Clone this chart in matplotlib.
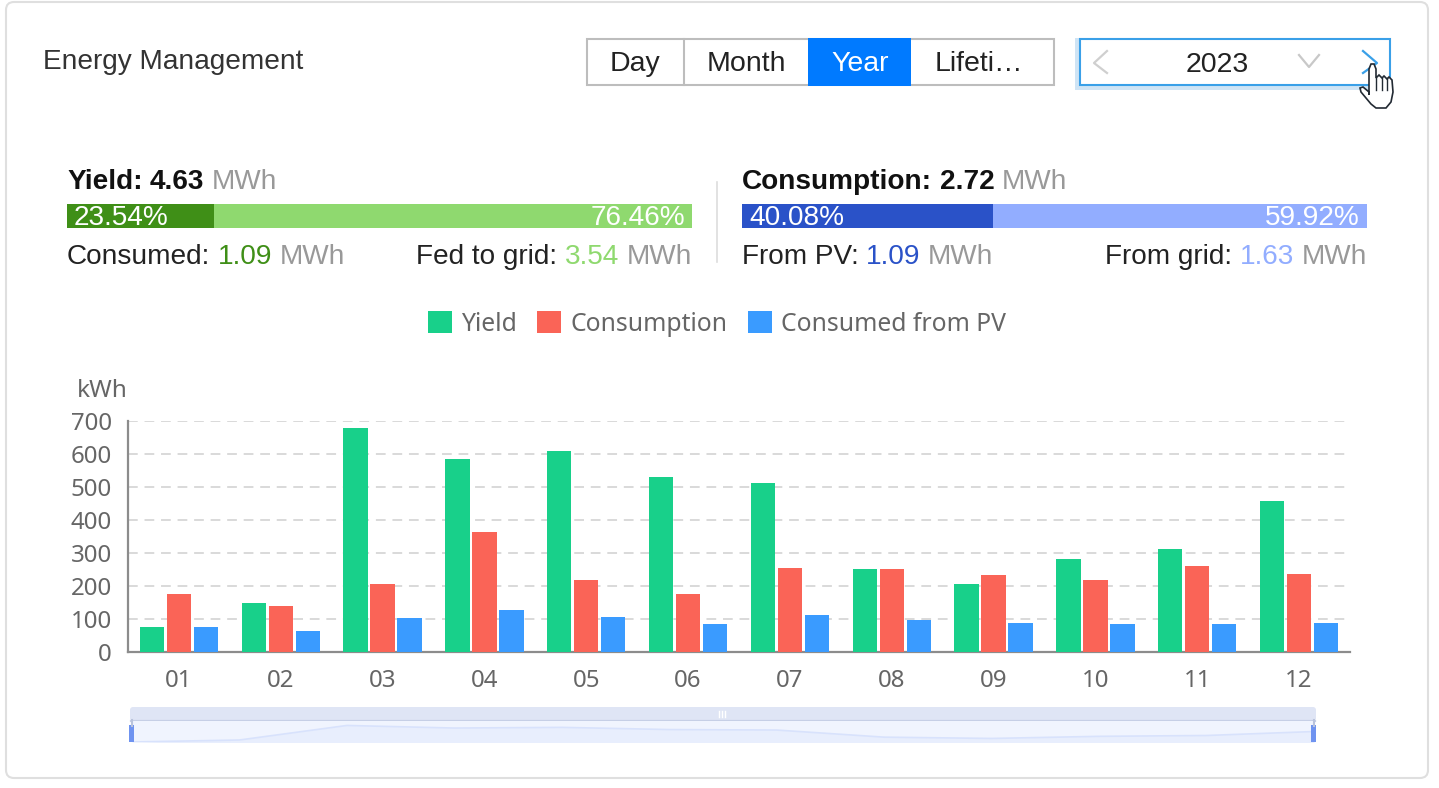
import matplotlib
matplotlib.use('Agg')
from matplotlib import pyplot as plt
from matplotlib.patches import FancyBboxPatch, Rectangle, Polygon
import numpy as np

W, H = 1439, 788
UI_FONT = 'Liberation Sans'
CHART_FONT = 'Noto Sans'

# Chart data
months = ['01', '02', '03', '04', '05', '06', '07', '08', '09', '10', '11', '12']
yield_kwh = [75, 148, 680, 585, 610, 530, 512, 252, 205, 282, 313, 458]
consumption_kwh = [175, 138, 207, 364, 218, 176, 256, 252, 233, 217, 260, 235]
from_pv_kwh = [75, 65, 102, 128, 107, 85, 112, 96, 88, 85, 86, 87]
series_names = ['Yield', 'Consumption', 'Consumed from PV']
series_colors = ['#18d08a', '#fa6457', '#3a9bff']
y_ticks = [0, 100, 200, 300, 400, 500, 600, 700]

# Summary bars
yield_split = [23.54, 76.46]
consumption_split = [40.08, 59.92]
tabs = ['Day', 'Month', 'Year', 'Lifeti…']


def px_axes(x0, y0, x1, y1, **kw):
    return fig.add_axes([x0/W, 1-y1/H, (x1-x0)/W, (y1-y0)/H], **kw)


def pieces(x, y, parts, size, align='left'):
    # parts = (text, color, bold), drawn one after the other
    order = parts if align == 'left' else parts[::-1]
    for s, c, b in order:
        t = ui.text(x, y, s, color=c, fontsize=size, family=UI_FONT, va='center',
                    ha=align, fontweight='bold' if b else 'normal')
        w = t.get_window_extent(renderer).width + 7.5
        x = x + w if align == 'left' else x - w


fig = plt.figure(figsize=(W/100, H/100), dpi=100)
renderer = fig.canvas.get_renderer()

# Overlay in pixel coordinates for the page furniture
ui = fig.add_axes([0, 0, 1, 1], zorder=0)
ui.set_xlim(0, W)
ui.set_ylim(H, 0)
ui.axis('off')

ui.add_patch(FancyBboxPatch((6, 2), 1422, 776, boxstyle='round,pad=0,rounding_size=8',
                            fc='white', ec='#dfdfdf', lw=1.5))
ui.text(43, 62, 'Energy Management', fontsize=20.2, family=UI_FONT, color='#333333', va='center')

# Tabs
tab_edges = [587, 684, 808, 911, 1054]
tab_centers = [635, 746, 860, 979]
ui.add_patch(Rectangle((587, 39), 467, 46, fc='white', ec='#bdbdbd', lw=1.5))
for i, label in enumerate(tabs):
    x0, x1 = tab_edges[i], tab_edges[i+1]
    active = label == 'Year'
    if active:
        ui.add_patch(Rectangle((x0, 38), x1-x0, 48, fc='#007aff', ec='none', zorder=3))
    elif i == 1:
        ui.plot([x0, x0], [39, 85], color='#bdbdbd', lw=1.5)
    ui.text(tab_centers[i], 64, label, ha='center', va='center', fontsize=20.5, family=UI_FONT,
            color='white' if active else '#222222', zorder=4)

# Year picker
ui.add_patch(Rectangle((1075, 38), 315, 52, fc='#cfe4f5', ec='none'))
ui.add_patch(Rectangle((1080, 39), 310, 46, fc='white', ec='#3aa0e8', lw=1.5))
ui.text(1217, 65, '2023', ha='center', va='center', fontsize=20.5, family=UI_FONT, color='#222222')
ui.plot([1107, 1094, 1107], [51, 63, 73], color='#cfcfcf', lw=1.6)
ui.plot([1299, 1309, 1319], [55, 67, 55], color='#c8c8c8', lw=1.6)
ui.plot([1363, 1377, 1363], [51, 63, 73], color='#3aa0e8', lw=1.6)
hand = [(1369, 95), (1369, 69), (1371, 64), (1374, 64), (1376, 69), (1376, 78), (1379, 75),
        (1382, 78), (1384, 76), (1387, 79), (1389, 77), (1392, 80), (1393, 92), (1391, 102),
        (1386, 108), (1376, 108), (1371, 104), (1361, 92), (1360, 88), (1363, 87), (1369, 92)]
ui.add_patch(Polygon(hand, closed=True, fc='white', ec='#222a33', lw=1.2, zorder=6))
for fx in (1376, 1382, 1387):
    ui.plot([fx, fx], [78, 90], color='#222a33', lw=1.0, zorder=7)

# Summary blocks
for x0, split, dark, light in [(67, yield_split, '#3f8f17', '#8fd96f'),
                               (742, consumption_split, '#2a52c8', '#92adff')]:
    ui.barh(216, 625*split[0]/100, left=x0, height=24, color=dark)
    ui.barh(216, 625*split[1]/100, left=x0+625*split[0]/100, height=24, color=light)
    ui.text(x0+7, 217.5, f'{split[0]}%', color='white', fontsize=20.2, family=UI_FONT, va='center')
    ui.text(x0+618, 217.5, f'{split[1]}%', color='white', fontsize=20.2, family=UI_FONT,
            va='center', ha='right')
ui.plot([717, 717], [182, 262], color='#dddddd', lw=1.2)

GREY = '#999999'
pieces(67, 182, [('Yield:', '#111111', True), ('4.63', '#111111', True), ('MWh', GREY, False)], 20.2)
pieces(742, 182, [('Consumption:', '#111111', True), ('2.72', '#111111', True), ('MWh', GREY, False)], 20.2)
pieces(67, 257, [('Consumed:', '#222222', False), ('1.09', '#3f8f17', False), ('MWh', GREY, False)], 20.2)
pieces(692, 257, [('Fed to grid:', '#222222', False), ('3.54', '#8fd96f', False), ('MWh', GREY, False)], 20.2, 'right')
pieces(742, 257, [('From PV:', '#222222', False), ('1.09', '#2a52c8', False), ('MWh', GREY, False)], 20.2)
pieces(1367, 257, [('From grid:', '#222222', False), ('1.63', '#92adff', False), ('MWh', GREY, False)], 20.2, 'right')

# Main bars
ax = px_axes(128, 421, 1350, 652, zorder=2)
ax.patch.set_alpha(0)
x = np.arange(len(months))
for off, vals, name, c in zip((-0.265, 0, 0.265), (yield_kwh, consumption_kwh, from_pv_kwh),
                              series_names, series_colors):
    ax.bar(x+off, vals, width=0.24, color=c, label=name, zorder=3)
ax.set_xlim(-0.5, 11.5)
ax.set_ylim(0, 700)
ax.set_xticks(x, months)
ax.set_yticks(y_ticks)
ax.tick_params(length=0, labelsize=17.3, labelcolor='#666666')
ax.tick_params(axis='x', pad=12)
ax.tick_params(axis='y', pad=11.5)
for lab in ax.get_xticklabels() + ax.get_yticklabels():
    lab.set_family(CHART_FONT)
ax.grid(axis='y', color='#d9d9d9', lw=1.4, ls=(0, (5, 3.5)), zorder=0)
ax.set_axisbelow(True)
for s in ('top', 'right'):
    ax.spines[s].set_visible(False)
for s in ('left', 'bottom'):
    ax.spines[s].set_color('#8c8c8c')
    ax.spines[s].set_linewidth(1.6)
ui.text(102, 391, 'kWh', ha='center', va='center', fontsize=17.5, family=CHART_FONT, color='#666666')

handles, labels = ax.get_legend_handles_labels()
ui.legend(handles, labels, loc='center', bbox_to_anchor=(717/W, 1-324/H), bbox_transform=fig.transFigure,
          ncol=3, frameon=False, handlelength=0.97, handleheight=1, handletextpad=0.36, columnspacing=0.85,
          prop={'family': CHART_FONT, 'size': 17.8}, labelcolor='#666666')

# Data zoom strip below the chart
ui.add_patch(FancyBboxPatch((130, 707), 1186, 14, boxstyle='round,pad=0,rounding_size=3', fc='#dfe5f5', ec='none'))
ui.plot([131, 1315], [720.5, 720.5], color='#c6cfe6', lw=1.6)
for gx in (719, 722, 725):
    ui.plot([gx, gx], [711, 717], color='white', lw=1)

mini = px_axes(132, 721, 1314, 742, zorder=1)
mini.plot(x, yield_kwh, color='#d8e2fc', lw=1.2)
mini.fill_between(x, yield_kwh, 0, color='#e8eefd', lw=0)
mini.set_xlim(0, 11)
mini.set_ylim(75, 680+680*0.24)
mini.set_facecolor('#f0f4fe')
mini.set_xticks([])
mini.set_yticks([])
for s in mini.spines.values():
    s.set_visible(False)

overlay = px_axes(0, 0, W, H, zorder=5)
overlay.set_xlim(0, W)
overlay.set_ylim(H, 0)
overlay.axis('off')
overlay.plot([132, 132], [720, 726], color='#b9c3dc', lw=1.5)
overlay.plot([1314, 1314], [720, 726], color='#b9c3dc', lw=1.5)
overlay.add_patch(Rectangle((129, 725), 5, 17, fc='#6f93f0', ec='none'))
overlay.add_patch(Rectangle((1311, 725), 5, 17, fc='#6f93f0', ec='none'))

fig.savefig('out.png', dpi=100)
